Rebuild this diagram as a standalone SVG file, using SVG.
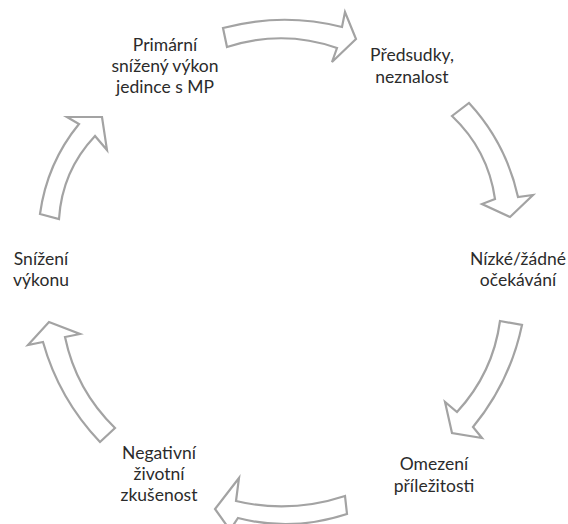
<svg xmlns="http://www.w3.org/2000/svg" width="568" height="524" viewBox="0 0 568 524">
<style>
.lbl{font-family:Lato,"Liberation Sans",sans-serif;font-size:17.5px;fill:#2b2b2b;text-anchor:middle}
.arr{fill:#ffffff;stroke:#a3a3a3;stroke-width:2.2;stroke-linejoin:miter}
</style>
<rect width="568" height="524" fill="#ffffff"/>
<g id="connectors">
<path class="arr" d="M223,28 Q283,12 342,27 L345,12 L356,39 L332,62 L337,48 Q283,29 227,47 Z"/>
<path class="arr" d="M469,103 Q506,143 518,197 L533,195 L510,217 L482,204 L495,199 Q488,150 452,116 Z"/>
<path class="arr" d="M500,321 L522,325 Q510,382 473,427 L482,438 L452,433 L445,402 L457,412 Q493,373 500,321 Z"/>
<path class="arr" d="M345,496 Q290,514 236,501 L239,478 L215,509 L230,530 L238,518 Q292,532 347,514 Z"/>
<path class="arr" d="M100,442 Q59,399 43,342 L28,345 L49,322 L80,334 L65,337 Q76,390 115,428 Z"/>
<path class="arr" d="M40,214 Q47,163 79,124 L67,117 L102,117 L107,150 L95,136 Q62,171 59,219 Z"/>
</g>
<g id="node-primarni"><text class="lbl" x="165" y="50.5">Primární</text><text class="lbl" x="165" y="71.5">snížený výkon</text><text class="lbl" x="165" y="92.5">jedince s MP</text></g>
<g id="node-predsudky"><text class="lbl" x="412" y="61">Předsudky,</text><text class="lbl" x="412" y="83">neznalost</text></g>
<g id="node-nizke"><text class="lbl" x="518" y="265">Nízké/žádné</text><text class="lbl" x="518" y="286">očekávání</text></g>
<g id="node-omezeni"><text class="lbl" x="434" y="470">Omezení</text><text class="lbl" x="434" y="492">příležitosti</text></g>
<g id="node-negativni"><text class="lbl" x="159" y="459">Negativní</text><text class="lbl" x="159" y="480">životní</text><text class="lbl" x="159" y="501">zkušenost</text></g>
<g id="node-snizeni"><text class="lbl" x="41" y="265">Snížení</text><text class="lbl" x="41" y="286">výkonu</text></g>
</svg>
